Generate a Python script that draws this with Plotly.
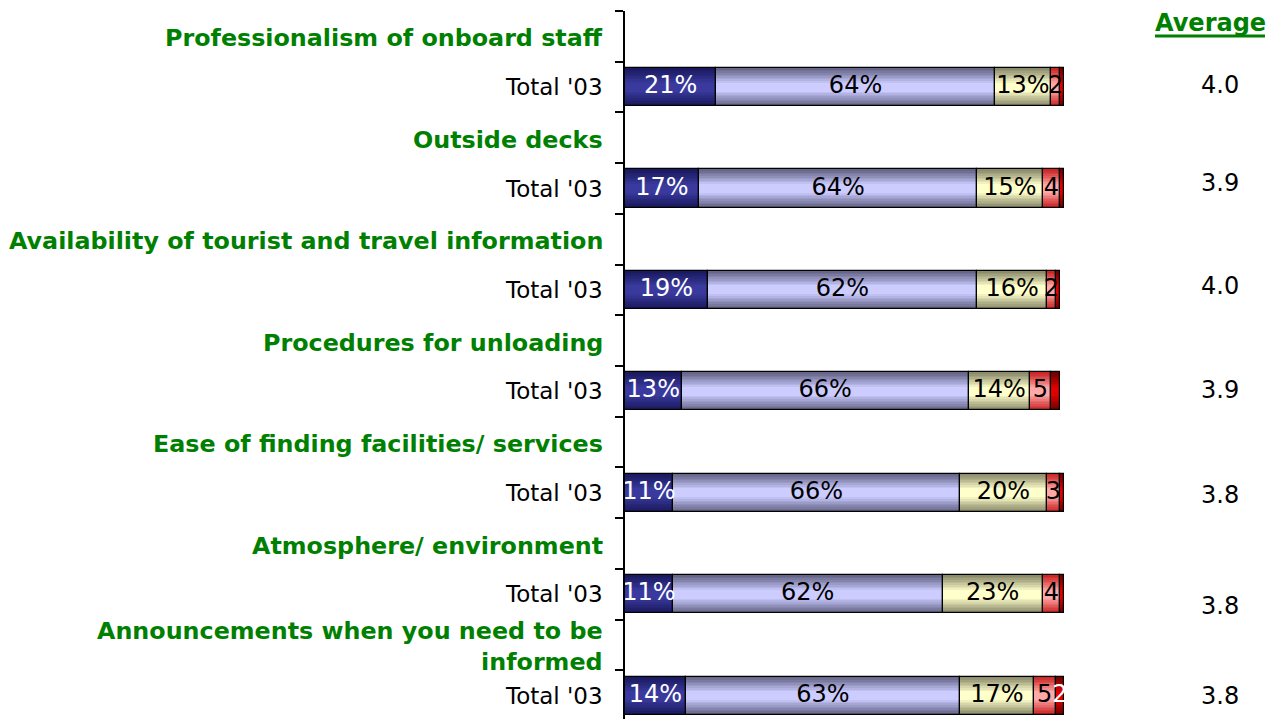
import plotly.graph_objects as go

# Survey items and their five satisfaction shares (%), top to bottom
items = [
    "Professionalism of onboard staff",
    "Outside decks",
    "Availability of tourist and travel information",
    "Procedures for unloading",
    "Ease of finding facilities/ services",
    "Atmosphere/ environment",
    "Announcements when you need to be<br>informed",
]
period = "Total '03"
very_satisfied = [21, 17, 19, 13, 11, 11, 14]
satisfied = [64, 64, 62, 66, 66, 62, 63]
neutral = [13, 15, 16, 14, 20, 23, 17]
dissatisfied = [2, 4, 2, 5, 3, 4, 5]
very_dissatisfied = [1, 1, 1, 2, 1, 1, 2]
very_dissatisfied_shown = [False, False, False, False, False, False, True]
averages = [4.0, 3.9, 4.0, 3.9, 3.8, 3.8, 3.8]
average_nudge = [2, 6, 4, 1, -2, -12, 0]

FONT = "DejaVu Sans"
GREEN = "#008000"

# segment styling: (values, edge colour, centre colour, label colour, label style)
segments = [
    (very_satisfied, "#1a1a60", "#3a3a9e", "white", "pct"),
    (satisfied, "#66668a", "#ccccff", "black", "pct"),
    (neutral, "#8c8c6c", "#ffffcc", "black", "pct"),
    (dissatisfied, "#cc2626", "#ffa8a8", "black", "num"),
    (very_dissatisfied, "#720000", "#e00000", "white", "num"),
]

n = len(items)
bar_rows = [2 * i + 1 for i in range(n)]
header_rows = [2 * i for i in range(n)]


def mix(c1, c2, t):
    a = [int(c1[k:k + 2], 16) for k in (1, 3, 5)]
    b = [int(c2[k:k + 2], 16) for k in (1, 3, 5)]
    return "#" + "".join(f"{round(x + (y - x) * t):02x}" for x, y in zip(a, b))


fig = go.Figure()
BAR_W = 0.75
LAYERS = 10

bases = [0] * n
text_x, text_y, text_s, text_c = [], [], [], []
for si, (vals, edge, centre, tcol, style) in enumerate(segments):
    base = list(bases)
    # shaded cylinder look: stacked overlays, narrower layers lighter
    for j in range(LAYERS):
        t = (j / (LAYERS - 1)) ** 1.1
        fig.add_trace(go.Bar(
            y=bar_rows, x=vals, base=base, orientation="h",
            width=BAR_W * (1 - 0.85 * j / LAYERS),
            marker=dict(color=mix(edge, centre, t), line=dict(width=0)),
            showlegend=False, hoverinfo="skip",
        ))
    # outline
    fig.add_trace(go.Bar(
        y=bar_rows, x=vals, base=base, orientation="h", width=BAR_W,
        marker=dict(color="rgba(0,0,0,0)", line=dict(color="black", width=1.2)),
        showlegend=False, hoverinfo="skip",
    ))
    for i, v in enumerate(vals):
        if si == 4 and not very_dissatisfied_shown[i]:
            continue
        text_x.append(base[i] + v / 2)
        text_y.append(bar_rows[i])
        text_s.append(f"{v}%" if style == "pct" else f"{v}")
        text_c.append(tcol)
    bases = [b + v for b, v in zip(bases, vals)]

fig.add_trace(go.Scatter(
    x=text_x, y=text_y, text=text_s, mode="text",
    textfont=dict(family=FONT, size=24, color=text_c),
    textposition="middle center", showlegend=False, hoverinfo="skip",
))

TOP = 11
plot_h = 719 - TOP

annotations = []
for i in range(n):
    annotations.append(dict(
        x=0, xref="paper", y=header_rows[i], yref="y", xshift=-20, yshift=-2,
        xanchor="right", yanchor="middle", align="right", showarrow=False,
        text=f"<b>{items[i]}</b>", font=dict(family=FONT, size=23.8, color=GREEN),
    ))
    annotations.append(dict(
        x=0, xref="paper", y=bar_rows[i], yref="y", xshift=-20,
        xanchor="right", yanchor="middle", showarrow=False,
        text=period, font=dict(family=FONT, size=23, color="black"),
    ))
    annotations.append(dict(
        x=0.914, xref="paper", y=bar_rows[i], yref="y",
        yshift=average_nudge[i], xanchor="center", yanchor="middle",
        showarrow=False, text=f"{averages[i]:.1f}",
        font=dict(family=FONT, size=24, color="black"),
    ))
# column heading in the top margin, underlined
annotations.append(dict(
    x=(1210 - 625) / 651, xref="paper", y=1 + (TOP - 23) / plot_h, yref="paper",
    xanchor="center", yanchor="middle", showarrow=False, text="<b>Average</b>",
    font=dict(family=FONT, size=24, color=GREEN),
))

fig.update_layout(
    width=1276, height=719,
    margin=dict(l=625, r=0, t=TOP, b=0),
    paper_bgcolor="white", plot_bgcolor="white",
    barmode="overlay", bargap=0,
    xaxis=dict(range=[0, 149.66], visible=False, fixedrange=True),
    yaxis=dict(
        range=[2 * n - 0.54, -0.5], showgrid=False, zeroline=False,
        showline=True, linecolor="black", linewidth=2,
        tickmode="array", tickvals=[k - 0.5 for k in range(2 * n + 1)],
        ticks="outside", ticklen=8, tickwidth=1.5, tickcolor="black",
        showticklabels=False,
    ),
    font=dict(family=FONT),
    annotations=annotations,
)
fig.add_shape(type="line", xref="paper", yref="paper",
              x0=(1155 - 625) / 651, x1=(1265 - 625) / 651,
              y0=1 + (TOP - 36) / plot_h, y1=1 + (TOP - 36) / plot_h,
              line=dict(color=GREEN, width=3))

fig.write_html("out.html")
